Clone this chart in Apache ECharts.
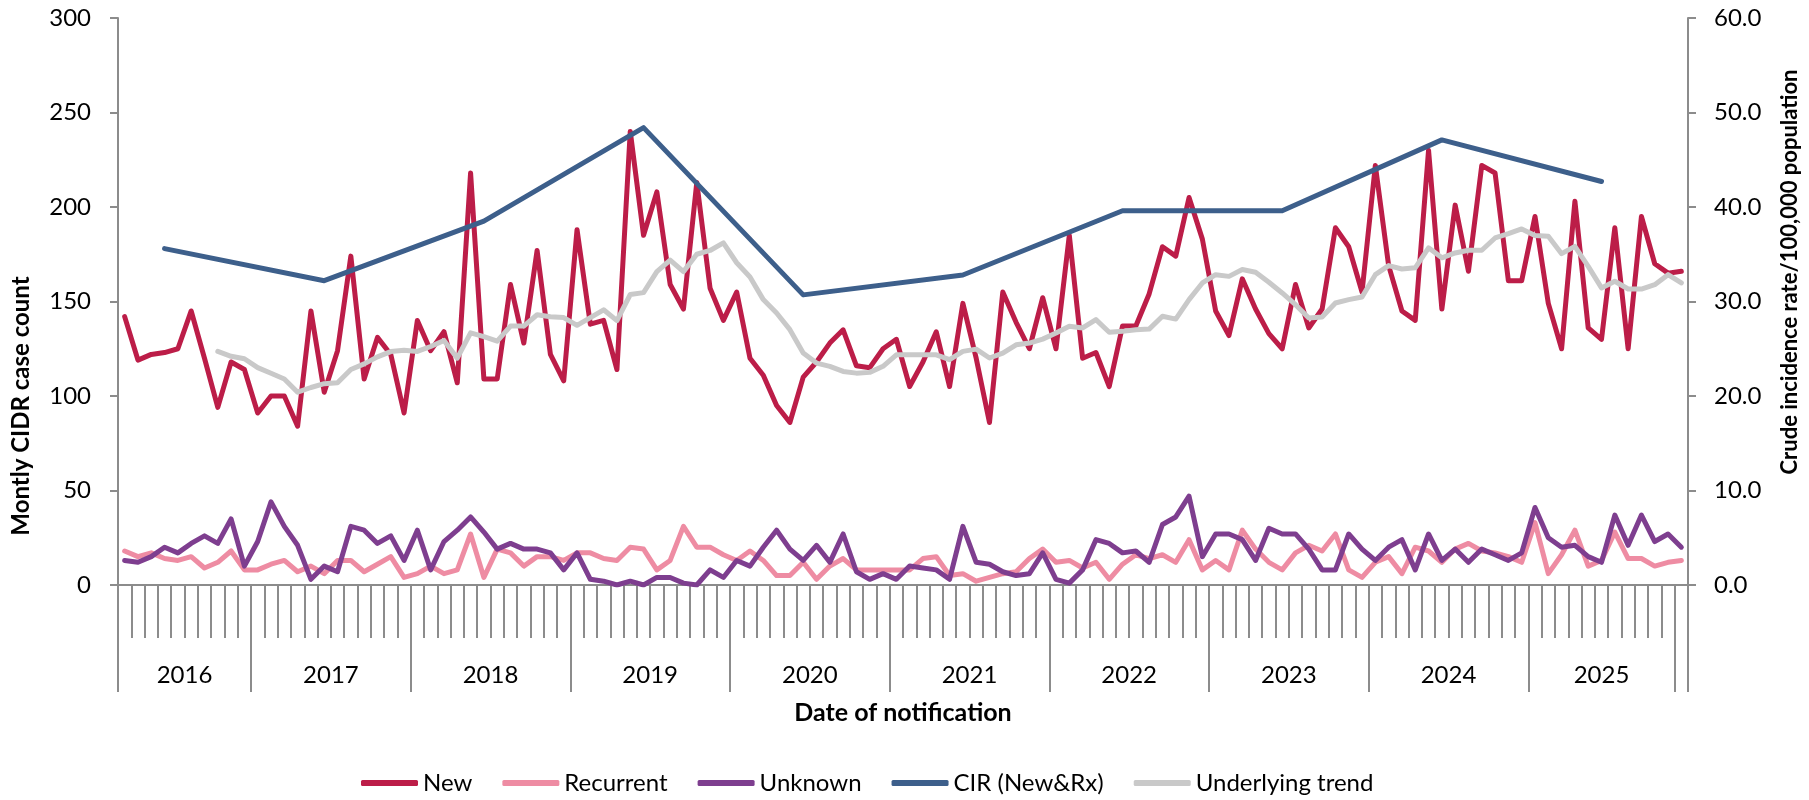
<!DOCTYPE html>
<html>
<head>
<meta charset="utf-8">
<title>CIDR monthly case count</title>
<script src="https://cdn.jsdelivr.net/npm/echarts@6/dist/echarts.min.js"></script>
<style>
  html, body { margin: 0; padding: 0; background: #fff; }
  #chart { width: 1809px; height: 800px; }
</style>
</head>
<body>
<div id="chart"></div>
<script>
// monthly series, Mar 2016 .. Dec 2025
const newCases = [
  142, 119, 122, 123, 125, 145, 120, 94, 118, 114,
  91, 100, 100, 84, 145, 102, 124, 174, 109, 131, 122, 91,
  140, 124, 134, 107, 218, 109, 109, 159, 128, 177, 122, 108,
  188, 138, 140, 114, 240, 185, 208, 159, 146, 213, 157, 140,
  155, 120, 111, 95, 86, 110, 118, 128, 135, 116, 115, 125,
  130, 105, 118, 134, 105, 149, 120, 86, 155, 139, 125, 152,
  125, 185, 120, 123, 105, 137, 137, 154, 179, 174, 205, 183,
  145, 132, 162, 146, 133, 125, 159, 136, 146, 189, 179, 155,
  222, 169, 145, 140, 230, 146, 201, 166, 222, 218, 161, 161,
  195, 149, 125, 203, 136, 130, 189, 125, 195, 170, 165, 166
];
const recurrent = [
  18, 15, 17, 14, 13, 15, 9, 12, 18, 8,
  8, 11, 13, 7, 10, 6, 13, 13, 7, 11, 15, 4,
  6, 10, 6, 8, 27, 4, 19, 17, 10, 15, 15, 13,
  17, 17, 14, 13, 20, 19, 8, 13, 31, 20, 20, 16,
  13, 18, 13, 5, 5, 12, 3, 10, 14, 8, 8, 8,
  8, 8, 14, 15, 5, 6, 2, 4, 6, 7, 14, 19,
  12, 13, 9, 12, 3, 11, 16, 14, 16, 12, 24, 8,
  13, 8, 29, 19, 12, 8, 17, 21, 18, 27, 8, 4,
  12, 15, 6, 20, 18, 12, 19, 22, 18, 17, 15, 12,
  33, 6, 16, 29, 10, 13, 28, 14, 14, 10, 12, 13
];
const unknown = [
  13, 12, 15, 20, 17, 22, 26, 22, 35, 10,
  23, 44, 31, 21, 3, 10, 7, 31, 29, 22, 26, 13,
  29, 8, 23, 29, 36, 28, 19, 22, 19, 19, 17, 8,
  17, 3, 2, 0, 2, 0, 4, 4, 1, 0, 8, 4,
  13, 10, 20, 29, 19, 13, 21, 12, 27, 7, 3, 6,
  3, 10, 9, 8, 3, 31, 12, 11, 7, 5, 6, 17,
  3, 1, 8, 24, 22, 17, 18, 12, 32, 36, 47, 15,
  27, 27, 24, 13, 30, 27, 27, 19, 8, 8, 27, 19,
  13, 20, 24, 8, 27, 13, 19, 12, 19, 16, 13, 17,
  41, 25, 20, 21, 15, 12, 37, 21, 37, 23, 27, 20
];
// underlying trend begins in Oct 2016
const trendStart = 7;
const trend = [
  123.6, 121.0, 119.7,
  115.0, 112.0, 109.0, 102.0, 104.5, 106.5, 107.0, 114.0, 117.0, 120.7, 123.5, 124.2,
  123.6, 126.2, 129.4, 120.0, 133.4, 131.4, 129.0, 137.0, 137.0, 143.0, 141.9, 141.5,
  137.4, 141.5, 145.6, 139.9, 153.7, 154.7, 165.8, 171.9, 165.8, 175.0, 177.0, 181.0,
  170.5, 163.0, 151.0, 143.9, 135.1, 122.7, 117.4, 115.7, 113.0, 112.1, 112.5, 115.7,
  121.8, 121.8, 121.8, 121.8, 119.2, 123.6, 124.8, 120.1, 122.7, 127.1, 128.0, 130.1,
  133.3, 136.9, 136.0, 140.4, 133.7, 134.2, 135.1, 135.4, 142.2, 140.7, 151.0, 159.8,
  164.2, 163.3, 166.9, 165.5, 160.2, 154.5, 148.3, 141.3, 141.8, 149.2, 151.0, 152.4,
  164.2, 169.0, 167.2, 167.8, 178.4, 173.1, 175.7, 177.1, 177.1, 183.6, 185.9, 188.4,
  184.9, 184.5, 175.3, 179.2, 168.6, 157.2, 160.7, 156.6, 156.6, 158.9, 164.2, 159.8
];
// yearly crude incidence rate, plotted at June of each year
const cirYears = [2016, 2017, 2018, 2019, 2020, 2021, 2022, 2023, 2024, 2025];
const cirValues = [35.6, 32.2, 38.5, 48.4, 30.7, 32.8, 39.6, 39.6, 47.1, 42.7];

// category axis groups (last month sits in its own unlabelled group)
const groupLabels = ['2016', '2017', '2018', '2019', '2020', '2021', '2022', '2023', '2024', '2025', ''];
const groupSizes = [10, 12, 12, 12, 12, 12, 12, 12, 12, 11, 1];

const startYear = 2016;
const startMonth = 3;

const FONT = 'Lato';
const AXIS_GREY = '#8c8c8c';

const months = [];
for (let i = 0; i < newCases.length; i++) {
  const m = startMonth - 1 + i;
  const y = startYear + Math.floor(m / 12);
  months.push(y + '-' + String((m % 12) + 1).padStart(2, '0'));
}

const groupTicks = [0];
const groupCentres = [];
let pos = 0;
groupSizes.forEach((n, k) => {
  if (groupLabels[k]) groupCentres.push(pos + n / 2);
  pos += n;
  groupTicks.push(pos);
});
const centreLabel = (v) => {
  const k = groupCentres.findIndex((c) => Math.abs(c - v) < 1e-6);
  return k >= 0 ? groupLabels[k] : '';
};

const trendData = months.map((m, i) => (i < trendStart ? null : trend[i - trendStart]));
const cirData = months.map(() => null);
cirYears.forEach((yr, k) => {
  const idx = months.indexOf(yr + '-06');
  if (idx >= 0) cirData[idx] = cirValues[k];
});

const lineSeries = (name, data, color, extra) =>
  Object.assign(
    {
      name: name,
      type: 'line',
      data: data,
      symbol: 'none',
      smooth: false,
      lineStyle: { width: 5, color: color, cap: 'round', join: 'round' },
      itemStyle: { color: color },
      emphasis: { disabled: true },
    },
    extra || {}
  );

const chart = echarts.init(document.getElementById('chart'));

chart.setOption({
  animation: false,
  textStyle: { fontFamily: FONT },
  grid: { left: 118, right: 117, top: 18, bottom: 215 },
  legend: {
    left: 356,
    top: 766,
    icon: 'roundRect',
    itemWidth: 57,
    itemHeight: 6,
    itemGap: 30,
    textStyle: { fontFamily: FONT, fontSize: 24, color: '#000' },
    data: ['New', 'Recurrent', 'Unknown', 'CIR (New&Rx)', 'Underlying trend'],
  },
  xAxis: [
    {
      type: 'category',
      data: months,
      boundaryGap: true,
      axisLine: { lineStyle: { color: AXIS_GREY, width: 2 } },
      axisTick: { show: true, interval: 0, length: 53, lineStyle: { color: AXIS_GREY, width: 2 } },
      axisLabel: { show: false },
      splitLine: { show: false },
    },
    {
      type: 'value',
      min: 0,
      max: months.length,
      position: 'bottom',
      axisLine: { show: false },
      splitLine: { show: false },
      axisTick: {
        show: true,
        customValues: groupTicks,
        length: 107,
        lineStyle: { color: AXIS_GREY, width: 2 },
      },
      axisLabel: {
        customValues: groupCentres,
        formatter: centreLabel,
        margin: 78,
        fontSize: 24,
        color: '#000',
        fontFamily: FONT,
      },
      name: 'Date of notification',
      nameLocation: 'middle',
      nameGap: 115,
      nameTextStyle: { fontFamily: FONT, fontWeight: 'bold', fontSize: 25, color: '#000' },
    },
  ],
  yAxis: [
    {
      type: 'value',
      position: 'left',
      min: 0,
      max: 300,
      interval: 50,
      axisLine: { show: true, lineStyle: { color: AXIS_GREY, width: 2 } },
      axisTick: { show: true, length: 8, lineStyle: { color: AXIS_GREY, width: 2 } },
      splitLine: { show: false },
      axisLabel: { fontSize: 24, color: '#000', margin: 27, fontFamily: FONT },
      name: 'Montly CIDR case count',
      nameLocation: 'middle',
      nameRotate: 90,
      nameGap: 85,
      nameTextStyle: {
        fontFamily: FONT,
        fontWeight: 'bold',
        fontSize: 24,
        color: '#000',
        padding: [0, 209, 0, 0],
      },
    },
    {
      type: 'value',
      position: 'right',
      min: 0,
      max: 60,
      interval: 10,
      axisLine: { show: true, lineStyle: { color: AXIS_GREY, width: 2 } },
      axisTick: { show: true, length: 8, lineStyle: { color: AXIS_GREY, width: 2 } },
      splitLine: { show: false },
      axisLabel: {
        fontSize: 24,
        color: '#000',
        margin: 26,
        fontFamily: FONT,
        formatter: (v) => v.toFixed(1),
      },
      name: 'Crude incidence rate/100,000 population',
      nameLocation: 'middle',
      nameRotate: 90,
      nameGap: 91,
      nameTextStyle: {
        fontFamily: FONT,
        fontWeight: 'bold',
        fontSize: 22,
        color: '#000',
        padding: [0, 0, 0, 59],
      },
    },
  ],
  series: [
    lineSeries('New', newCases, '#BC1D48'),
    lineSeries('Recurrent', recurrent, '#EE8CA3'),
    lineSeries('Unknown', unknown, '#7E3E8F'),
    lineSeries('CIR (New&Rx)', cirData, '#3D5F8B', { yAxisIndex: 1, connectNulls: true }),
    lineSeries('Underlying trend', trendData, '#C9C9C9'),
  ],
});

window.onresize = function () {
  chart.resize();
};
</script>
</body>
</html>
